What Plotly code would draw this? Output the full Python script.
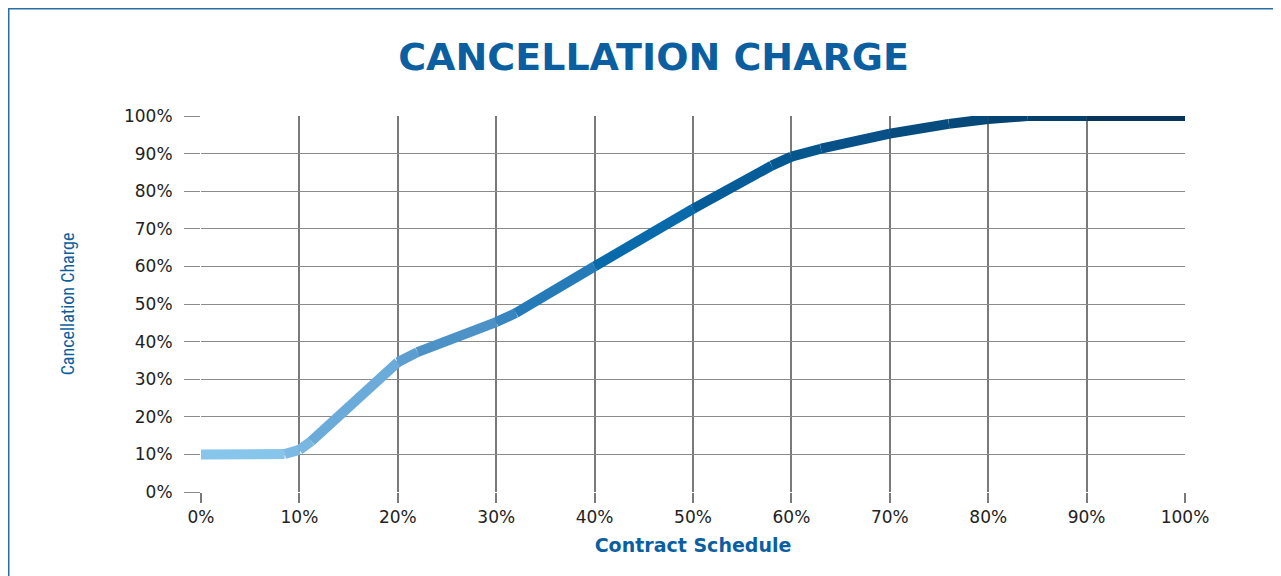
import plotly.graph_objects as go

# Data
schedule_pct = [0, 8.5, 10, 11.2, 20, 22, 30, 32, 40, 50, 58, 60, 63, 70, 76, 80, 84, 90, 100]
charge_pct = [10, 10.1, 11.2, 13.5, 34.5, 37.2, 45.2, 47.6, 60, 75.3, 86.8, 89.2, 91.3, 95.3, 97.9, 99.2, 100, 100, 100]
tick_vals = [0, 10, 20, 30, 40, 50, 60, 70, 80, 90, 100]
tick_text = [f"{v}%" for v in tick_vals]

# Gradient stops (style)
grad = [(0, (145, 207, 240)), (12, (118, 180, 224)), (25, (80, 148, 200)), (35, (40, 125, 185)),
        (45, (8, 106, 170)), (55, (3, 92, 150)), (65, (8, 82, 138)), (85, (5, 66, 110)), (100, (12, 45, 80))]

def color_at(x):
    for (x0, c0), (x1, c1) in zip(grad[:-1], grad[1:]):
        if x0 <= x <= x1:
            t = (x - x0) / (x1 - x0)
            c = [round(a + (b - a) * t) for a, b in zip(c0, c1)]
            return f"rgb({c[0]},{c[1]},{c[2]})"
    return "rgb(12,45,80)"

fig = go.Figure()
for i in range(len(schedule_pct) - 1):
    xs = schedule_pct[i:i + 2]
    ys = charge_pct[i:i + 2]
    fig.add_trace(go.Scatter(
        x=xs, y=ys, mode="lines",
        line=dict(color=color_at((xs[0] + xs[1]) / 2), width=10),
        hoverinfo="skip", showlegend=False,
    ))

blue = "#0b5fa0"
L, R, T, B = 193, 1177, 108, 484
W, H = 1281, 576
pw, ph = R - L, B - T
fig.update_layout(
    width=W, height=H,
    margin=dict(l=L, r=W - R, t=T, b=H - B),
    paper_bgcolor="white", plot_bgcolor="white",
    title=dict(text="<b>CANCELLATION CHARGE</b>", x=0.504, xanchor="center", y=1 - 49 / H, yanchor="middle",
               font=dict(family="DejaVu Sans", size=38, color=blue)),
    xaxis=dict(range=[0, 100], tickvals=tick_vals, ticktext=tick_text,
               showgrid=True, gridcolor="#7a7a7a", gridwidth=1.5,
               ticks="outside", ticklen=10, tickcolor="#7a7a7a", tickwidth=1.5,
               zeroline=False, showline=False, ticklabelstandoff=0,
               tickfont=dict(family="DejaVu Sans", size=17, color="#222"),
               title=dict(text="<b>Contract Schedule</b>", standoff=12,
                          font=dict(family="DejaVu Sans", size=19, color=blue))),
    yaxis=dict(range=[0, 100], tickvals=tick_vals, ticktext=tick_text,
               showgrid=True, gridcolor="#8a8a8a", gridwidth=1,
               ticks="outside", ticklen=16, tickcolor="#8a8a8a", tickwidth=1,
               zeroline=False, showline=False, ticklabelstandoff=8,
               tickfont=dict(family="DejaVu Sans", size=17, color="#222"),
               title=dict(text="Cancellation Charge", standoff=44,
                          font=dict(family="Liberation Sans Narrow, Roboto Condensed, Liberation Sans", size=18, color=blue))),
    shapes=[dict(type="rect", xref="paper", yref="paper",
                 x0=(0.5 - L) / pw, x1=(1272 - L) / pw,
                 y0=(B - 620) / ph, y1=(B - 0.5) / ph,
                 line=dict(color="#2a6ea8", width=2), layer="below")],
)
fig.write_html("out.html")
